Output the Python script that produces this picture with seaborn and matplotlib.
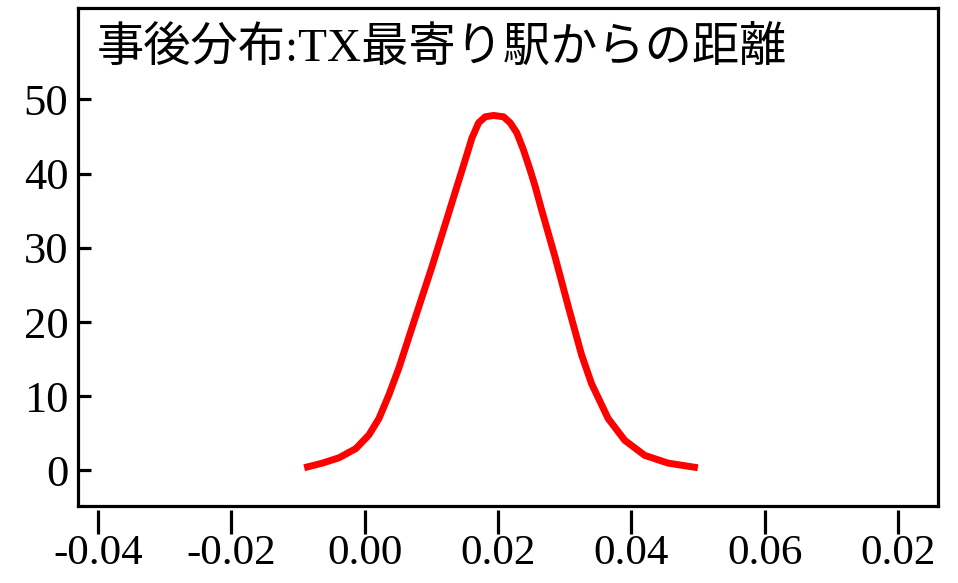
import numpy as np
import pandas as pd
import seaborn as sns
from matplotlib import pyplot as plt

# posterior density
dist_x = [-0.00906, -0.00632, -0.00383, -0.00133, 0.00066, 0.00215, 0.00365,
          0.00514, 0.00764, 0.01012, 0.01262, 0.01386, 0.01511, 0.01610,
          0.01710, 0.01810, 0.01934, 0.02084, 0.02184, 0.02283, 0.02383,
          0.02483, 0.02558, 0.02656, 0.02856, 0.03055, 0.03254, 0.03404,
          0.03653, 0.03903, 0.04202, 0.04550, 0.04999]
density = [0.36, 0.99, 1.71, 2.93, 4.8, 7.0, 10.2,
           13.8, 20.7, 27.5, 34.7, 38.3, 41.9, 44.8,
           46.85, 47.66, 47.84, 47.66, 46.85, 45.5, 43.2,
           40.5, 38.3, 35.1, 28.8, 22.1, 15.6, 11.7,
           7.0, 4.05, 2.03, 0.99, 0.36]

x_ticks = [-0.04, -0.02, 0.00, 0.02, 0.04, 0.06, 0.08]
x_tick_labels = ["-0.04", "-0.02", "0.00", "0.02", "0.04", "0.06", "0.02"]
y_ticks = [0, 10, 20, 30, 40, 50]
title = "事後分布:TX最寄り駅からの距離"

sns.set_style("white")
plt.rcParams['font.family'] = ['Liberation Serif', 'Noto Sans CJK JP']
plt.rcParams['text.color'] = 'black'
plt.rcParams['xtick.color'] = 'black'
plt.rcParams['ytick.color'] = 'black'

df = pd.DataFrame({"x": dist_x, "density": density})

fig = plt.figure(figsize=(9.58, 5.83), dpi=100)
ax = fig.add_axes([0.0814, 0.132, 0.8976, 0.854])

sns.lineplot(data=df, x="x", y="density", color="red", linewidth=5,
             solid_joinstyle="round", solid_capstyle="butt", ax=ax)

ax.set_xlim(-0.0430, 0.0860)
ax.set_ylim(-4.8, 62.3)
ax.set_xlabel("")
ax.set_ylabel("")

for s in ax.spines.values():
    s.set_linewidth(2.3)
    s.set_color("black")

ax.set_yticks(y_ticks)
ax.tick_params(axis="y", direction="in", length=9, width=2.3, labelsize=32, pad=7, left=True)

# x ticks hang a little below the frame
ax.set_xticks([])
sec = ax.secondary_xaxis(-0.007)
sec.spines["bottom"].set_visible(False)
sec.set_xticks(x_ticks)
sec.set_xticklabels(x_tick_labels)
sec.tick_params(axis="x", direction="out", length=17, width=2.3, labelsize=31, pad=1)

ax.text(0.022, 0.961, title, transform=ax.transAxes, ha="left", va="top", fontsize=34)

fig.savefig("out.png", dpi=100)
